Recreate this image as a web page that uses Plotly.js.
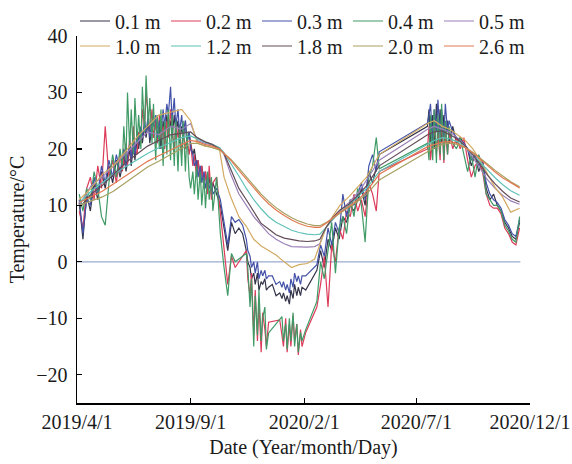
<!DOCTYPE html>
<html><head><meta charset="utf-8">
<script src="https://cdn.plot.ly/plotly-3.0.1.min.js"></script>
<style>html,body{margin:0;padding:0;background:#fff}#chart{width:572px;height:464px}</style>
</head><body><div id="chart"></div>
<script>
// ---- shallow sensors (0.1–0.4 m) ----
const datesShallow = [
 '2019-04-04','2019-04-09','2019-04-14','2019-04-19','2019-04-24','2019-04-29','2019-05-04','2019-05-09','2019-05-14','2019-05-19','2019-05-24','2019-05-29',
 '2019-06-01','2019-06-03','2019-06-06','2019-06-08','2019-06-11','2019-06-13','2019-06-16','2019-06-18','2019-06-21','2019-06-23','2019-06-26','2019-06-28',
 '2019-07-01','2019-07-03','2019-07-06','2019-07-08','2019-07-11','2019-07-13','2019-07-16','2019-07-18','2019-07-21','2019-07-23','2019-07-26','2019-07-28',
 '2019-07-31','2019-08-02','2019-08-05','2019-08-07','2019-08-10','2019-08-12','2019-08-15','2019-08-17','2019-08-20','2019-08-22','2019-08-25','2019-08-27','2019-08-30',
 '2019-09-01','2019-09-04','2019-09-06','2019-09-09','2019-09-11','2019-09-14','2019-09-16','2019-09-19','2019-09-21','2019-09-24','2019-09-26','2019-09-29',
 '2019-10-01','2019-10-06','2019-10-11','2019-10-16','2019-10-21','2019-10-26','2019-10-31','2019-11-05','2019-11-10','2019-11-15',
 '2019-11-17','2019-11-20','2019-11-22','2019-11-25','2019-11-27','2019-11-30','2019-12-02','2019-12-05','2019-12-07','2019-12-10','2019-12-12','2019-12-15',
 '2019-12-20','2019-12-25','2019-12-30','2020-01-02',
 '2020-01-04','2020-01-07','2020-01-09','2020-01-12','2020-01-14','2020-01-17','2020-01-19','2020-01-22','2020-01-24','2020-01-27','2020-01-29','2020-02-03',
 '2020-02-18','2020-02-23','2020-02-28','2020-03-04','2020-03-09','2020-03-14','2020-03-19','2020-03-24','2020-03-29','2020-04-03','2020-04-08','2020-04-13','2020-04-18','2020-04-23',
 '2020-04-28','2020-05-03','2020-05-08','2020-05-12',
 '2020-07-16','2020-07-18','2020-07-20','2020-07-23','2020-07-25','2020-07-28','2020-07-30','2020-08-02','2020-08-04','2020-08-07','2020-08-09','2020-08-12',
 '2020-08-14','2020-08-19','2020-08-24','2020-08-29','2020-09-03','2020-09-08','2020-09-13','2020-09-18','2020-09-23','2020-09-28','2020-10-03','2020-10-08',
 '2020-10-13','2020-10-18','2020-10-23','2020-10-28','2020-11-02','2020-11-07','2020-11-12','2020-11-17'
];
const t01 = [
 10.5,4,12,9,14,11,16,13,17,14,18,15,
 17,19,16,18,20,17,21,18,22,20,23,21,
 24,22,25,21,24,22,25,21,24,20,25,22,
 26,23,25,22,26,23,25,21,24,22,25,21,23,
 21,19,20,17,18,15,17,14,16,13,15,12,
 14,12,10,6,2,7,5,6,5,2,
 0,-1,-3,-2,-4,-2,-5,-3.5,-4,-3,-5,-4.5,
 -4,-6,-5.5,-6.5,
 -5.5,-7,-6,-7.5,-5,-6.5,-4,-6,-4.5,-6,-4.5,-5,
 -1.5,2,-1,4,2,6,4,8,7,10,9,11,13,10,
 16,14,17,19,
 24,27,21,26,20,28,22,27,21,26,22,25,
 21,24,21,22,21,20,17,19,16,18,13,11,
 12,10,9,7,6,4.5,4,7];
const t02 = [
 9,6,13,15,11,17,13,24,15,18,14,19,
 16,18,21,17,22,18,24,20,19,23,21,27,
 24,30,26,23,27,22,25,21,26,22,24,20,
 25,22,27,23,20,25,22,24,19,23,20,22,19,
 21,17,19,15,18,14,17,13,16,12,17,11,
 14,15,9,3,-4,1,-1,null,null,2,
 -3,-6,-2,-13,-5,-14,-7,-16,-9,-12,-15,-10.7,
 null,null,-10.3,-13,
 -15,-10,-16,-11,-15,-9.5,-14,-11,-16.5,-12,-15,-12.5,
 -8,-4,1,-8,3,0,6,4,9,8,12,9,11,8,
 14,12,9,16,
 20,24,18,22,25,19,23,18,26,17.5,23,19,
 23,20,22,20,22,18,15,17,18,16,12,10,
 9.5,9.5,8.5,6,5,3.5,3,6];
const t03 = [
 11,5,11,10,15,12,17,14,18,15,19,16,
 18,20,17,19,21,18,22,19,23,21,24,22,
 25,23,26,22,25,24,26,22,25,23,27,24,
 28,26,31,25,29,24,27,23,26,22,25,21,23,
 20,19,17,18,15,17,14,16,13,15,13,14,
 12,13,11,7,3,8,7,7.5,6.5,4,
 2,1,-1,0,-2,0,-3,-1.5,-2.5,-1.5,-3,-2.5,
 -2.5,-4,-3.5,-4.5,
 -3.5,-5,-4,-5.5,-3,-4.5,-2,-3.5,-2.5,-4,-2.5,-2.5,
 -0.5,3,1,6,3,7,5,12,8,11,10,12,14,11,
 17,19,16,19.5,
 24.6,26,28,21,27,23,28.7,22,27,22,28,23,
 25,23,22,21.5,21,20,18,19,17,18,14,12,
 11,10.5,9.5,7.5,6.5,5,4.5,7.5];
const t04 = [
 12,9,13,11,16,13,8,6.5,14,19,15,20,
 17,24,18,30,20,27,19,29,21,26,20,31,
 23,33,24,29,21,28,18,26,20,27,17,25,
 19,27,18,26,17,25,16,24,17,25,16,23,15,
 13,16,12,17,11,16,10,15,9.5,16,11,15,
 9,15,5,-1,-6,1.5,0,null,null,1.5,
 -1,-8,-3,-15,-6,-13,-5,-14,-10,-8,-15.5,-12.6,
 null,null,null,-9.7,
 -14,-11,-15.5,-10,-14,-9,-15,-11,-16,-12.5,-14,-12,
 -7,0,-3,2,7,-2,6,8,5,11,8,13,10,3.5,
 15,17,22,16.5,
 21,18,26,18,27,17.5,26,19,28,18,25,19,
 24,21,20,22,19,16,19,15,19,17,12,11,
 10,10,9,6.5,5.5,4,3.5,8];

// ---- deeper sensors (0.5–2.6 m) ----
const datesDeep = [
 '2019-04-04','2019-04-20','2019-05-05','2019-05-20','2019-06-05','2019-06-20',
 '2019-07-05','2019-07-20','2019-08-05','2019-08-20','2019-09-01','2019-09-10',
 '2019-09-20','2019-09-30','2019-10-10','2019-10-16','2019-10-25','2019-11-05',
 '2019-11-15','2019-11-25','2019-12-05','2019-12-15','2019-12-25','2020-01-05',
 '2020-01-15','2020-01-25','2020-02-05','2020-02-15','2020-02-22','2020-03-01',
 '2020-03-10','2020-03-20','2020-04-01','2020-04-15','2020-04-25','2020-05-12',
 '2020-07-16','2020-07-25','2020-08-05','2020-08-15','2020-08-25','2020-09-05',
 '2020-09-15','2020-09-25','2020-10-05','2020-10-15','2020-10-25','2020-11-05','2020-11-17'
];
const t05 = [10,13.5,15,17,19,21,23,22.5,24,23.5,24.5,21.5,21,20.7,20.2,19,15.5,12,10,8,6.5,5,4,3.2,
 2.7,2.6,2.6,2.7,3.2,6,7.5,9,10.5,12.5,14.5,18,23.5,24,23.5,23,22,20.5,18.5,16.5,14.5,13,11.8,10.8,10.2];
const t10 = [11,13,15.5,17,19.5,22,24,26,26.5,27,25,21,20.5,20.3,19.8,15,11.5,8,6.3,4,2.8,2,1.2,0,
 -1,-0.5,-0.3,0.5,3,6,8,10,11.5,13.5,15,19,24.5,25,24,23.5,22.5,21.5,20,18,15.5,13.2,11.5,8.8,9.5];
const t12 = [10.5,12.5,14,15.5,16.8,18,19.2,20.2,21.2,22,22.3,21.8,21.2,20.8,20.2,19.3,17.5,15.2,13,11,9.4,8,7,6.2,
 5.6,5.2,4.9,4.8,4.9,6,7.5,8.8,10,11.8,13,16,20.8,21.5,22,21.8,21.3,20.3,19,17.6,16.2,14.9,13.7,12.6,11.8];
const t18 = [9.5,12,13.5,15.5,17.5,19,20.5,21.5,22.5,22.8,23,22,21.3,20.8,20,19.2,16.5,13,11,9,6.8,5.8,4.8,4.2,
 3.9,3.7,3.6,3.7,4,6,7.8,9.2,10.2,12,13.5,17,22.5,23,23.2,22.5,21.8,20.5,19,17.2,15.3,13.8,12.5,11.3,10.6];
const t20 = [10,10.8,11.5,12.5,14,15.5,16.8,17.8,19,20.2,21,21,20.6,20.3,19.8,19.2,18.2,16.6,15,13.4,12,10.7,9.6,8.6,
 7.8,7.2,6.7,6.4,6.4,6.9,7.7,8.6,9.6,10.9,12,14.5,19.5,20.2,20.8,21,20.8,20.2,19.4,18.4,17.3,16.2,15.2,14.2,13.3];
const t26 = [10.5,11.5,12.5,13.8,15.2,16.5,17.8,18.8,19.8,20.8,21.5,21.3,20.8,20.5,20,19.2,18,16.2,14.6,13,11.6,10.3,9.2,8.2,
 7.4,6.8,6.3,6.1,6.1,6.8,7.8,8.8,9.8,11.2,12.5,15.5,20.4,20.8,21.2,21.3,21,20.2,19.3,18.2,17,15.9,14.9,14,13.1];

const depthLabels = ['0.1 m','0.2 m','0.3 m','0.4 m','0.5 m','1.0 m','1.2 m','1.8 m','2.0 m','2.6 m'];
const colors = ['#34344a','#dc3c5a','#4352a8','#3f9a66','#9a80b8','#d3aa62','#5fc2b8','#634c58','#a8a060','#e07a52'];
const tickDates = ['2019-04-01','2019-09-01','2020-02-01','2020-07-01','2020-12-01'];
const tickText = ['2019/4/1','2019/9/1','2020/2/1','2020/7/1','2020/12/1'];
const zeroSpan = ['2019-04-01','2020-11-18'];

const series = [
  [datesShallow,t01],[datesShallow,t02],[datesShallow,t03],[datesShallow,t04],
  [datesDeep,t05],[datesDeep,t10],[datesDeep,t12],[datesDeep,t18],[datesDeep,t20],[datesDeep,t26]
];
series.forEach((s,i)=>{ if(s[0].length!==s[1].length) throw new Error('length mismatch '+depthLabels[i]+' '+s[0].length+' vs '+s[1].length); });
const traces = series.map((s,i)=>({
  type:'scatter', mode:'lines', x:s[0], y:s[1], name:depthLabels[i],
  connectgaps:true,
  line:{color:colors[i], width:1.2},
  legend: i<5 ? 'legend' : 'legend2'
}));

const font = 'Liberation Serif, Times New Roman, serif';
const plotTop = 36, plotH = 367, plotL = 77, plotW = 453;
const legBase = {orientation:'h', xref:'paper', yref:'paper', xanchor:'left', yanchor:'top',
  x:(75-plotL)/plotW, bgcolor:'rgba(0,0,0,0)', font:{family:font,size:20,color:'#1a1a1a'}, entrywidth:46, traceorder:'normal'};
const layout = {
  width:572, height:464,
  margin:{l:77, r:42, t:36, b:61, autoexpand:false},
  paper_bgcolor:'#fff', plot_bgcolor:'#fff',
  font:{family:font, size:20, color:'#1a1a1a'},
  showlegend:true,
  legend:Object.assign({}, legBase, {y:1+(plotTop-1.5)/plotH}),
  legend2:Object.assign({}, legBase, {y:1+(plotTop-26.5)/plotH}),
  xaxis:{type:'date', range:['2019-04-01','2020-12-01'], tickmode:'array', tickvals:tickDates, ticktext:tickText,
    ticks:'inside', ticklen:5, tickwidth:1.2, tickcolor:'#000', showline:true, linecolor:'#000', linewidth:1.5,
    showgrid:false, zeroline:false, automargin:false, tickfont:{family:font,size:20,color:'#1a1a1a'},
    title:{text:'Date (Year/month/Day)', font:{family:font,size:20,color:'#1a1a1a'}, standoff:8}},
  yaxis:{range:[-25,40], tickmode:'array', tickvals:[-20,-10,0,10,20,30,40],
    ticks:'inside', ticklen:5, tickwidth:1.2, tickcolor:'#000', showline:true, linecolor:'#000', linewidth:1.5,
    showgrid:false, zeroline:false, automargin:false, tickfont:{family:font,size:20,color:'#1a1a1a'}, ticklabelstandoff:4,
    title:{text:'Temperature/°C', font:{family:font,size:20,color:'#1a1a1a'}, standoff:6}},
  shapes:[{type:'line', xref:'x', yref:'y', x0:zeroSpan[0], x1:zeroSpan[1], y0:0, y1:0,
    line:{color:'#98abd0', width:1.3}, layer:'below'}]
};
Plotly.newPlot('chart', traces, layout, {displayModeBar:false, staticPlot:true});
</script></body></html>
